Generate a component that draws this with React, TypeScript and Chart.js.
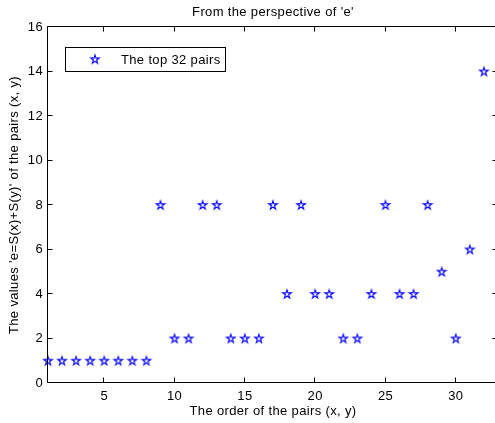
import React, { useEffect, useRef } from 'react';
import { Chart, registerables } from 'chart.js';

Chart.register(...registerables);

const orders = [1, 2, 3, 4, 5, 6, 7, 8, 9, 10, 11, 12, 13, 14, 15, 16, 17, 18, 19, 20, 21, 22, 23, 24, 25, 26, 27, 28, 29, 30, 31, 32];
const values = [1, 1, 1, 1, 1, 1, 1, 1, 8, 2, 2, 8, 8, 2, 2, 2, 8, 4, 8, 4, 4, 2, 2, 4, 8, 4, 4, 8, 5, 2, 6, 14];
const xTicks = [5, 10, 15, 20, 25, 30];
const yTicks = [0, 2, 4, 6, 8, 10, 12, 14, 16];
const titleText = "From the perspective of 'e'";
const xLabel = 'The order of the pairs (x, y)';
const yLabel = "The values 'e=S(x)+S(y)' of the pairs (x, y)";
const legendLabel = 'The top 32 pairs';

const FONT = '"Liberation Sans", Arial, Helvetica, sans-serif';
const BLUE = '#0000ff';
const SPACING = '0.35px';

function makeStar(): HTMLCanvasElement {
  const c = document.createElement('canvas');
  c.width = 14;
  c.height = 14;
  const g = c.getContext('2d')!;
  const cx = 7, cy = 7.3, R = 4.5, r = R * 0.382;
  g.beginPath();
  for (let i = 0; i < 10; i++) {
    const rad = i % 2 === 0 ? R : r;
    const a = -Math.PI / 2 + (i * Math.PI) / 5;
    const x = cx + rad * Math.cos(a);
    const y = cy + rad * Math.sin(a);
    if (i === 0) g.moveTo(x, y);
    else g.lineTo(x, y);
  }
  g.closePath();
  g.strokeStyle = BLUE;
  g.lineWidth = 1.1;
  g.lineJoin = 'miter';
  g.stroke();
  return c;
}

export default function App() {
  const ref = useRef<HTMLCanvasElement>(null);
  useEffect(() => {
    document.body.style.margin = '0';
    document.body.style.overflow = 'hidden';
    const star = makeStar();
    const framePlugin = {
      id: 'matlabFrame',
      beforeDraw(chart: any) {
        (chart.ctx as any).letterSpacing = SPACING;
      },
      afterDraw(chart: any) {
        const { ctx, chartArea } = chart;
        const xs = chart.scales.x;
        const ys = chart.scales.y;
        const L = chartArea.left - 0.5, R = chartArea.right - 0.5, T = chartArea.top - 0.5, B = chartArea.bottom - 0.5;
        ctx.save();
        ctx.letterSpacing = SPACING;
        ctx.strokeStyle = '#000';
        ctx.lineWidth = 1;
        ctx.beginPath();
        ctx.rect(L, T, R - L, B - T);
        ctx.stroke();
        const tl = 5;
        ctx.beginPath();
        xTicks.forEach((v) => {
          const px = Math.round(xs.getPixelForValue(v)) - 0.5;
          ctx.moveTo(px, B); ctx.lineTo(px, B - tl);
          ctx.moveTo(px, T); ctx.lineTo(px, T + tl);
        });
        yTicks.forEach((v) => {
          const py = Math.round(ys.getPixelForValue(v)) - 0.5;
          ctx.moveTo(L, py); ctx.lineTo(L + tl, py);
          ctx.moveTo(R, py); ctx.lineTo(R - tl, py);
        });
        ctx.stroke();
        // titles
        ctx.fillStyle = '#000';
        ctx.font = `13px ${FONT}`;
        ctx.textAlign = 'center';
        ctx.textBaseline = 'alphabetic';
        const cxp = (chartArea.left + chartArea.right) / 2;
        ctx.fillText(titleText, cxp, 16);
        ctx.fillText(xLabel, cxp, 414.5);
        ctx.save();
        ctx.translate(17.5, (chartArea.top + chartArea.bottom) / 2);
        ctx.rotate(-Math.PI / 2);
        ctx.fillText(yLabel, 0, 0);
        ctx.restore();
        // legend
        ctx.fillStyle = '#fff';
        ctx.fillRect(65.5, 47.5, 160, 24);
        ctx.strokeStyle = '#000';
        ctx.strokeRect(65.5, 47.5, 160, 24);
        ctx.drawImage(star, 95 - 7, 59.5 - 7.3);
        ctx.fillStyle = '#000';
        ctx.textAlign = 'left';
        ctx.fillText(legendLabel, 121, 64);
        ctx.restore();
      },
    };
    const chart = new Chart(ref.current!, {
      type: 'scatter',
      data: {
        datasets: [
          {
            label: legendLabel,
            data: orders.map((x, i) => ({ x, y: values[i] })),
            pointStyle: star as any,
            pointRadius: 5,
            clip: false as any,
          },
        ],
      },
      options: {
        responsive: false,
        animation: false,
        events: [],
        layout: { autoPadding: false, padding: { top: 27, right: 2, bottom: 0, left: 0 } },
        plugins: {
          legend: { display: false },
          title: { display: false },
          tooltip: { enabled: false },
        },
        scales: {
          x: {
            type: 'linear',
            min: 1,
            max: 33,
            grid: { display: false, tickLength: 0 },
            border: { display: false },
            afterBuildTicks: (s: any) => { s.ticks = xTicks.map((v) => ({ value: v })); },
            afterFit: (s: any) => { s.height = 40; s.paddingLeft = 0; s.paddingRight = 0; },
            ticks: { color: '#000', padding: 6, font: { family: FONT, size: 13 }, maxRotation: 0, autoSkip: false },
          },
          y: {
            type: 'linear',
            min: 0,
            max: 16,
            grid: { display: false, tickLength: 0 },
            border: { display: false },
            afterBuildTicks: (s: any) => { s.ticks = yTicks.map((v) => ({ value: v })); },
            afterFit: (s: any) => { s.width = 48; s.paddingTop = 0; s.paddingBottom = 0; },
            ticks: { color: '#000', padding: 5, font: { family: FONT, size: 13 }, autoSkip: false },
          },
        },
      },
      plugins: [framePlugin],
    });
    return () => chart.destroy();
  }, []);
  return (
    <div style={{ width: 495, height: 423, overflow: 'hidden', position: 'relative' }}>
      <div style={{ width: 500, height: 423, position: 'absolute', left: 0, top: 0 }}>
        <canvas ref={ref} width={500} height={423} style={{ display: 'block', width: 500, height: 423 }} />
      </div>
    </div>
  );
}
